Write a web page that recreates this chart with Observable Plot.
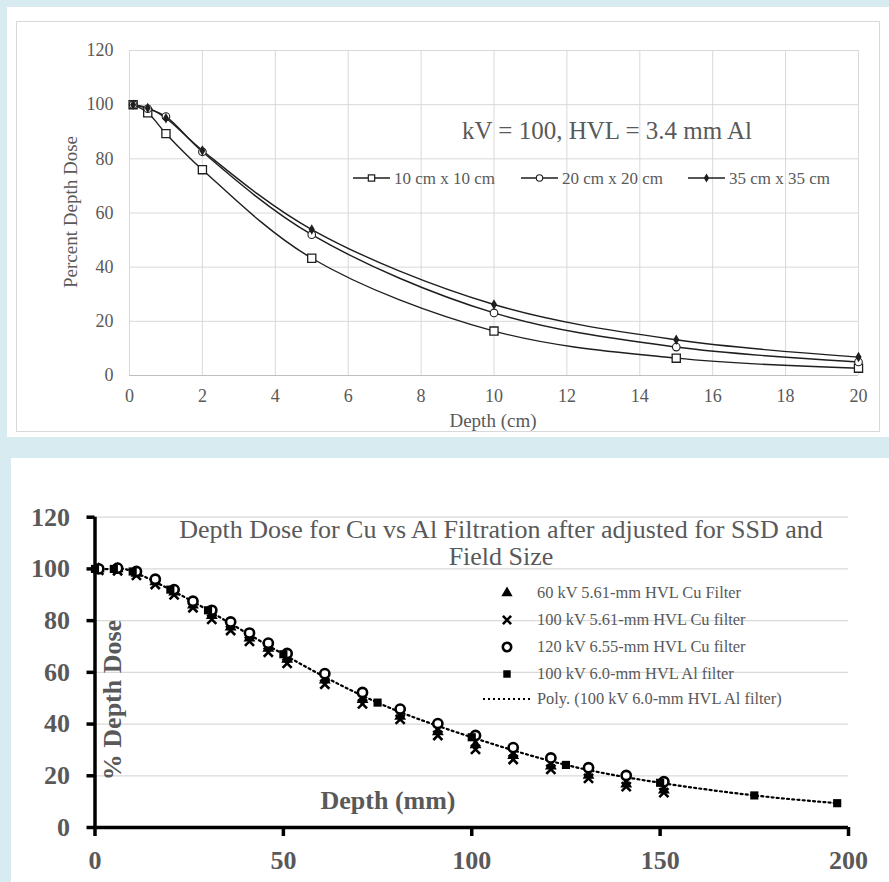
<!DOCTYPE html>
<html><head><meta charset="utf-8">
<script src="https://cdn.jsdelivr.net/npm/d3@7"></script>
<script src="https://cdn.jsdelivr.net/npm/@observablehq/plot@0.6"></script>
<style>
body{margin:0;background:#d8ebf1;width:889px;height:882px;position:relative;overflow:hidden;font-family:"Liberation Serif",serif;color:#595959;}
.panel{position:absolute;background:#fff;}
#p1{left:7px;top:7px;width:882px;height:430px;}
#p2{left:11px;top:458px;width:878px;height:424px;}
#frame1{position:absolute;left:16px;top:21px;width:864px;height:411px;border:1px solid #d9d9d9;box-sizing:border-box;}
.abs{position:absolute;white-space:nowrap;line-height:1;}
.panel svg{position:absolute;left:0;top:0;}
</style></head><body>
<div id="p1" class="panel"></div>
<div id="frame1"></div>
<div id="p2" class="panel"></div>
<script>
// ---------- top chart data ----------
const depthCm = [0.1, 0.5, 1, 2, 5, 10, 15, 20];
const pdd10 = [100, 97.0, 89.3, 76.0, 43.3, 16.4, 6.4, 2.7];
const pdd20 = [100, 98.5, 95.6, 82.6, 52.0, 23.1, 10.5, 5.0];
const pdd35 = [100, 98.8, 95.0, 83.1, 53.9, 26.2, 13.2, 6.8];
const topSeries = ["10 cm x 10 cm", "20 cm x 20 cm", "35 cm x 35 cm"];
const topTicksX = [0, 2, 4, 6, 8, 10, 12, 14, 16, 18, 20];
const topTicksY = [0, 20, 40, 60, 80, 100, 120];

// ---------- bottom chart data ----------
const cuDepth = [1, 6, 11, 16, 21, 26, 31, 36, 41, 46, 51, 61, 71, 81, 91, 101, 111, 121, 131, 141, 151];
const kv60 = [100, 100, 98.3, 95, 91, 86, 82, 77.5, 73.3, 69.3, 65, 57, 49.5, 43, 37, 32, 27.8, 23.8, 20.2, 16.8, 14.5];
const kv100cu = [99.5, 99.3, 97.5, 94, 90, 85, 80.5, 76.2, 72, 67.8, 63.5, 55.4, 47.8, 41.8, 35.6, 30.2, 26.3, 22.5, 19, 15.8, 13.5];
const kv120 = [100, 100.3, 99, 96, 92, 87.5, 84, 79.5, 75.2, 71.3, 67.3, 59.5, 52.2, 45.8, 40.2, 35.6, 30.9, 26.9, 23.1, 20.1, 17.7];
const alDepth = [0, 5, 10, 20, 30, 50, 75, 100, 125, 150, 175, 197];
const al100 = [100, 100, 99, 92, 84, 67, 48.3, 34.9, 24.2, 17.3, 12.4, 9.4];
const botSeries = ["60 kV 5.61-mm HVL Cu Filter", "100 kV 5.61-mm HVL Cu filter", "120 kV 6.55-mm HVL Cu filter", "100 kV 6.0-mm HVL Al filter", "Poly. (100 kV 6.0-mm HVL Al filter)"];
const botTicksX = [0, 50, 100, 150, 200];
const botTicksY = [0, 20, 40, 60, 80, 100, 120];

// ---------- build tables ----------
const topRows = [];
[pdd10, pdd20, pdd35].forEach((vals, k) => depthCm.forEach((d, i) => topRows.push({depth: d, pdd: vals[i], s: topSeries[k]})));
const mk = (xs, ys) => xs.map((d, i) => ({depth: d, pdd: ys[i]}));
const r60 = mk(cuDepth, kv60), r100 = mk(cuDepth, kv100cu), r120 = mk(cuDepth, kv120), rAl = mk(alDepth, al100);

const ink = "#1e1e1e";
const topChart = Plot.plot({
  width: 882, height: 430,
  marginLeft: 122, marginRight: 31, marginTop: 43, marginBottom: 62,
  style: {fontFamily: "Liberation Serif", fontSize: "18px", color: "#595959", background: "transparent", overflow: "visible"},
  x: {domain: [0, 20]},
  y: {domain: [0, 120]},
  marks: [
    Plot.gridX(topTicksX, {stroke: "#d9d9d9", strokeOpacity: 1}),
    Plot.gridY(topTicksY, {stroke: "#d9d9d9", strokeOpacity: 1}),
    Plot.ruleY([0], {stroke: "#bfbfbf", strokeWidth: 1.2}),
    Plot.axisX({ticks: topTicksX, tickSize: 0, tickPadding: 14, label: null}),
    Plot.axisY({ticks: topTicksY, tickSize: 0, tickPadding: 16, label: null}),
    Plot.line(topRows, {x: "depth", y: "pdd", z: "s", curve: "catmull-rom", stroke: ink, strokeWidth: 1.4}),
    Plot.dot(topRows.filter(d => d.s === topSeries[0]), {x: "depth", y: "pdd", symbol: "square", r: 4.6, fill: "white", stroke: ink, strokeWidth: 1.3}),
    Plot.dot(topRows.filter(d => d.s === topSeries[1]), {x: "depth", y: "pdd", symbol: "circle", r: 3.8, fill: "white", stroke: ink, strokeWidth: 1.1}),
    Plot.dot(topRows.filter(d => d.s === topSeries[2]), {x: "depth", y: "pdd", symbol: "diamond", r: 3.2, fill: ink, stroke: "none"})
  ]
});
document.getElementById("p1").appendChild(topChart);

const botChart = Plot.plot({
  width: 878, height: 424,
  marginLeft: 83.5, marginRight: 41, marginTop: 58.7, marginBottom: 55,
  style: {fontFamily: "Liberation Serif", fontSize: "26px", fontWeight: "bold", color: "#595959", background: "transparent", overflow: "visible"},
  x: {domain: [0, 200]},
  y: {domain: [0, 120]},
  marks: [
    Plot.gridY(botTicksY.filter(v => v > 0), {stroke: "#d9d9d9", strokeOpacity: 1, strokeWidth: 1.2}),
    Plot.line(rAl, {x: "depth", y: "pdd", curve: "natural", stroke: "#000", strokeWidth: 2.2, strokeDasharray: "2,3.2"}),
    Plot.ruleX([0], {y1: 0, y2: 120, stroke: "#000", strokeWidth: 3.5}),
    Plot.ruleY([0], {x1: 0, x2: 200, stroke: "#000", strokeWidth: 3.5}),
    Plot.axisX({ticks: botTicksX, tickSize: 9, tickPadding: 14, stroke: "#000", strokeWidth: 3.5, label: null}),
    Plot.axisY({ticks: botTicksY, tickSize: 8, tickPadding: 17, stroke: "#000", strokeWidth: 3.5, label: null}),
    Plot.dot(r100, {x: "depth", y: "pdd", symbol: "times", r: 4.2, stroke: "#000", strokeWidth: 2.6}),
    Plot.dot(r60, {x: "depth", y: "pdd", symbol: "triangle", r: 4.4, fill: "#000", stroke: "none"}),
    Plot.dot(r120, {x: "depth", y: "pdd", symbol: "circle", r: 4.6, fill: "white", stroke: "#000", strokeWidth: 2.6}),
    Plot.dot(rAl, {x: "depth", y: "pdd", symbol: "square", r: 4.6, fill: "#000", stroke: "none"})
  ]
});
document.getElementById("p2").appendChild(botChart);

// ---------- overlay text ----------
function label(text, x, y, css, rot) {
  const d = document.createElement("div");
  d.className = "abs";
  d.textContent = text;
  Object.assign(d.style, css);
  d.style.left = x + "px"; d.style.top = y + "px";
  d.style.transform = "translate(-50%,-50%)" + (rot ? " rotate(-90deg)" : "");
  document.body.appendChild(d);
  return d;
}
label("kV = 100, HVL = 3.4 mm Al", 607, 130, {fontSize: "25px"});
label("Depth (cm)", 493, 420, {fontSize: "19px"});
label("Percent Depth Dose", 70, 212, {fontSize: "19px"}, true);

const t2 = label("", 501, 543, {fontSize: "26px", textAlign: "center", lineHeight: "27px"});
t2.innerHTML = "Depth Dose for Cu vs Al Filtration after adjusted for SSD and<br>Field Size";
label("Depth (mm)", 388, 801, {fontSize: "26px", fontWeight: "bold"});
label("% Depth Dose", 113, 700, {fontSize: "26px", fontWeight: "bold"}, true);

// ---------- legends ----------
function symSvg(w, h, opts) {
  const svg = d3.create("svg").attr("width", w).attr("height", h).style("position", "absolute").style("overflow", "visible");
  if (opts.line) svg.append("line").attr("x1", 0).attr("x2", w).attr("y1", h / 2).attr("y2", h / 2)
    .attr("stroke", opts.lineColor || ink).attr("stroke-width", opts.lineWidth || 1.4).attr("stroke-dasharray", opts.dash || null);
  if (opts.symbol) svg.append("path").attr("transform", `translate(${w / 2},${h / 2})`)
    .attr("d", d3.symbol(opts.symbol, Math.PI * opts.r * opts.r)())
    .attr("fill", opts.fill).attr("stroke", opts.stroke || "none").attr("stroke-width", opts.sw || 1);
  return svg.node();
}
function place(node, x, y) { node.style.left = x + "px"; node.style.top = y + "px"; document.body.appendChild(node); }
function textAt(text, x, cy, size) {
  const d = document.createElement("div");
  d.className = "abs"; d.textContent = text;
  d.style.fontSize = size + "px"; d.style.left = x + "px"; d.style.top = cy + "px";
  d.style.transform = "translateY(-50%)";
  document.body.appendChild(d);
}
const topLeg = [
  {x: 353, symbol: d3.symbolSquare, r: 3.6, fill: "white", stroke: ink, sw: 1.2},
  {x: 521, symbol: d3.symbolCircle, r: 3.2, fill: "white", stroke: ink, sw: 1.1},
  {x: 688, symbol: d3.symbolDiamond, r: 2.8, fill: ink}
];
topLeg.forEach((o, i) => {
  place(symSvg(37, 12, {line: true, ...o}), o.x, 172);
  textAt(topSeries[i], o.x + 41, 178, 17);
});
const botLeg = [
  {symbol: d3.symbolTriangle, r: 4.2, fill: "#000"},
  {symbol: d3.symbolTimes, r: 3.8, fill: "none", stroke: "#000", sw: 2.6},
  {symbol: d3.symbolCircle, r: 4.2, fill: "white", stroke: "#000", sw: 2.6},
  {symbol: d3.symbolSquare, r: 4.2, fill: "#000"}
];
const rowY = [593, 620, 647, 674, 699];
botLeg.forEach((o, i) => {
  place(symSvg(16, 16, o), 499, rowY[i] - 8);
  textAt(botSeries[i], 537, rowY[i], 16.4);
});
place(symSvg(47, 6, {line: true, lineColor: "#000", lineWidth: 2.2, dash: "2,3"}), 483, rowY[4] - 3);
textAt(botSeries[4], 537, rowY[4], 16.4);
</script>
</body></html>
